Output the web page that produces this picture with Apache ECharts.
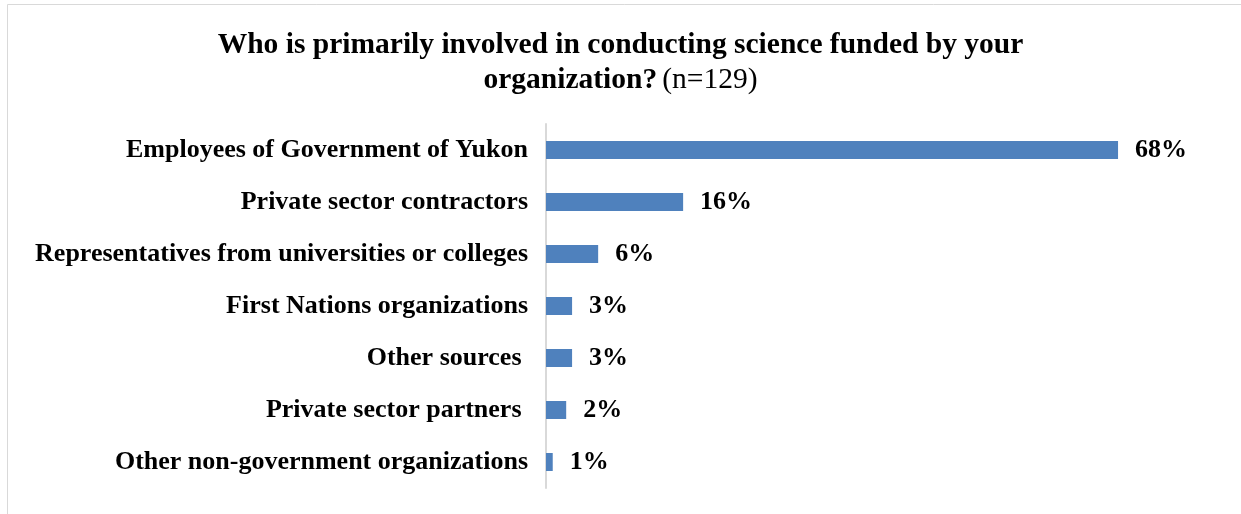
<!DOCTYPE html>
<html lang="en">
<head>
  <meta charset="UTF-8">
  <title>Who conducts science</title>
  <script src="https://cdn.jsdelivr.net/npm/echarts@6/dist/echarts.min.js"></script>
  <style>
    body { margin: 0; background: #fff; }
  </style>
</head>
<body>
  <div id="main" style="width: 1241px; height: 514px;"></div>

  <script type="text/javascript">
    // Categories, top to bottom as shown (two keep a trailing space, as in the source)
    const categories = [
      'Employees of Government of Yukon',
      'Private sector contractors',
      'Representatives from universities or colleges',
      'First Nations organizations',
      'Other sources ',
      'Private sector partners ',
      'Other non-government organizations'
    ];
    // Share of respondents (%)
    const shares = [68, 16.3, 6.2, 3.1, 3.1, 2.4, 0.8];

    const serif = '"Liberation Serif", "DejaVu Serif", serif';

    let myChart = echarts.init(document.getElementById('main'));

    let options = {
      animation: false,
      backgroundColor: '#fff',
      title: {
        text: '{b|Who is primarily involved in conducting science funded by your}\n{b|organization?} {n|(n=129)}',
        left: 'center',
        top: 23,
        textStyle: {
          rich: {
            b: { fontFamily: serif, fontWeight: 'bold', fontSize: 29.5, color: '#000', lineHeight: 35 },
            n: { fontFamily: serif, fontWeight: 'normal', fontSize: 29.5, color: '#000', lineHeight: 35 }
          }
        }
      },
      graphic: [{
        type: 'rect',
        shape: { x: 7.5, y: 4.5, width: 1240, height: 520 },
        style: { fill: 'none', stroke: '#d9d9d9', lineWidth: 1 },
        silent: true
      }],
      grid: { left: 546, right: 22, top: 124, bottom: 26, containLabel: false },
      xAxis: {
        type: 'value',
        min: 0,
        max: 80,
        show: false
      },
      yAxis: {
        type: 'category',
        inverse: true,
        data: categories,
        axisLine: { show: true, lineStyle: { color: '#d9d9d9', width: 2 } },
        axisTick: { show: false },
        axisLabel: {
          margin: 18,
          fontFamily: serif,
          fontWeight: 'bold',
          fontSize: 26,
          color: '#000'
        }
      },
      series: [{
        type: 'bar',
        data: shares,
        barWidth: 18,
        itemStyle: { color: '#4f81bd' },
        label: {
          show: true,
          position: 'right',
          distance: 17,
          fontFamily: serif,
          fontWeight: 'bold',
          fontSize: 26,
          color: '#000',
          formatter: p => Math.round(p.value) + '%'
        }
      }]
    };

    myChart.setOption(options);
  </script>
</body>
</html>
